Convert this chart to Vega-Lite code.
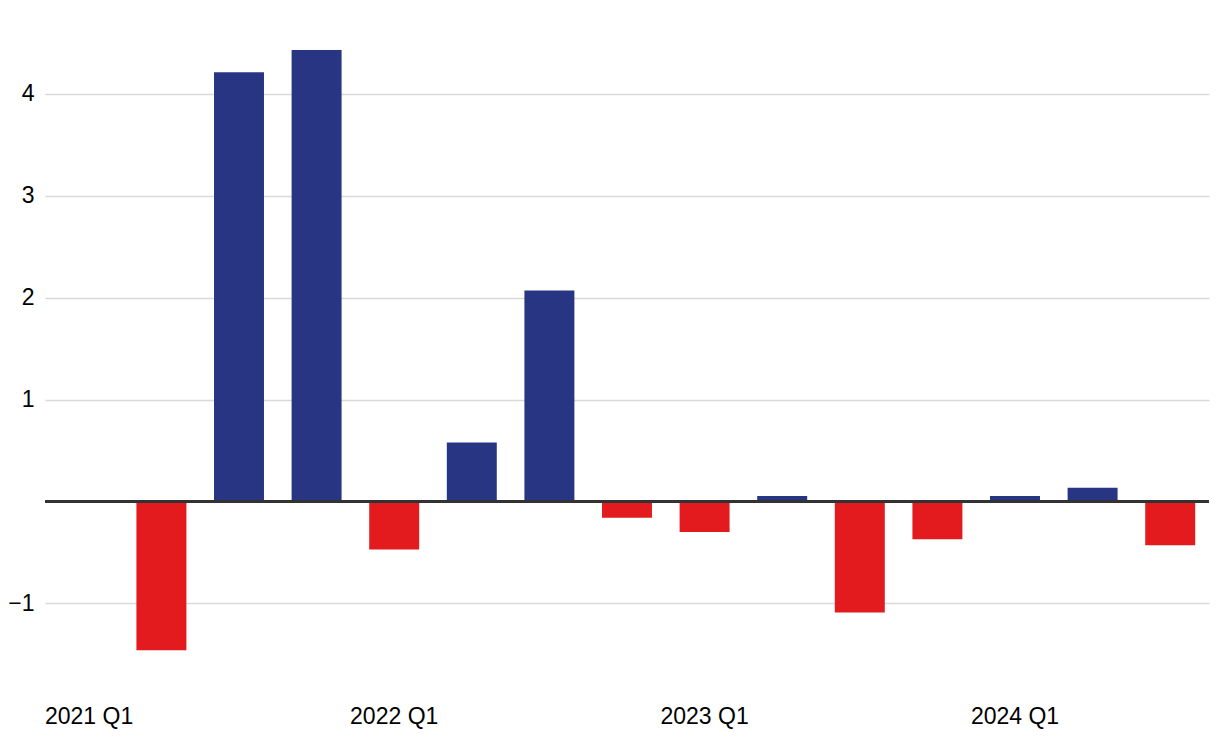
{
  "$schema": "https://vega.github.io/schema/vega-lite/v6.json",
  "autosize": {"type": "fit", "contains": "padding"},
  "width": 1220,
  "height": 748,
  "padding": {"left": 7, "top": 2, "right": 9, "bottom": 20},
  "background": "white",
  "config": {
    "view": {"stroke": null},
    "font": "Liberation Sans"
  },
  "data": {
    "values": [
      {"quarter": "2021 Q1", "value": 0},
      {"quarter": "2021 Q2", "value": -1.46},
      {"quarter": "2021 Q3", "value": 4.21},
      {"quarter": "2021 Q4", "value": 4.43},
      {"quarter": "2022 Q1", "value": -0.47},
      {"quarter": "2022 Q2", "value": 0.58},
      {"quarter": "2022 Q3", "value": 2.07},
      {"quarter": "2022 Q4", "value": -0.16},
      {"quarter": "2023 Q1", "value": -0.3},
      {"quarter": "2023 Q2", "value": 0.055},
      {"quarter": "2023 Q3", "value": -1.09},
      {"quarter": "2023 Q4", "value": -0.37},
      {"quarter": "2024 Q1", "value": 0.055},
      {"quarter": "2024 Q2", "value": 0.135},
      {"quarter": "2024 Q3", "value": -0.43}
    ]
  },
  "layer": [
    {
      "mark": {"type": "bar"},
      "encoding": {
        "x": {
          "field": "quarter",
          "type": "ordinal",
          "sort": null,
          "scale": {"paddingInner": 0.356, "paddingOuter": 0.178},
          "axis": {
            "title": null,
            "labelAngle": 0,
            "domain": false,
            "ticks": false,
            "grid": false,
            "labelFontSize": 23,
            "labelColor": "#000000",
            "labelPadding": 20,
            "labelExpr": "indexof(datum.label, 'Q1') >= 0 ? datum.label : ''",
            "labelAlign": {"expr": "datum.value === '2021 Q1' ? 'left' : 'center'"},
            "labelOffset": {"expr": "datum.value === '2021 Q1' ? -38.8 : 0"}
          }
        },
        "y": {
          "field": "value",
          "type": "quantitative",
          "scale": {"domain": [-1.8, 4.9], "nice": false, "zero": false},
          "axis": {
            "title": null,
            "values": [-1, 1, 2, 3, 4],
            "format": "d",
            "domain": false,
            "ticks": false,
            "labelFontSize": 23,
            "labelColor": "#000000",
            "labelPadding": 11,
            "gridColor": "#d9d9d9",
            "gridWidth": 1.5
          }
        },
        "color": {
          "condition": {"test": "datum.value < 0", "value": "#e31b1e"},
          "value": "#283583"
        }
      }
    },
    {
      "mark": {"type": "rule", "color": "#333333", "strokeWidth": 2.5},
      "encoding": {"y": {"datum": 0}}
    }
  ]
}
